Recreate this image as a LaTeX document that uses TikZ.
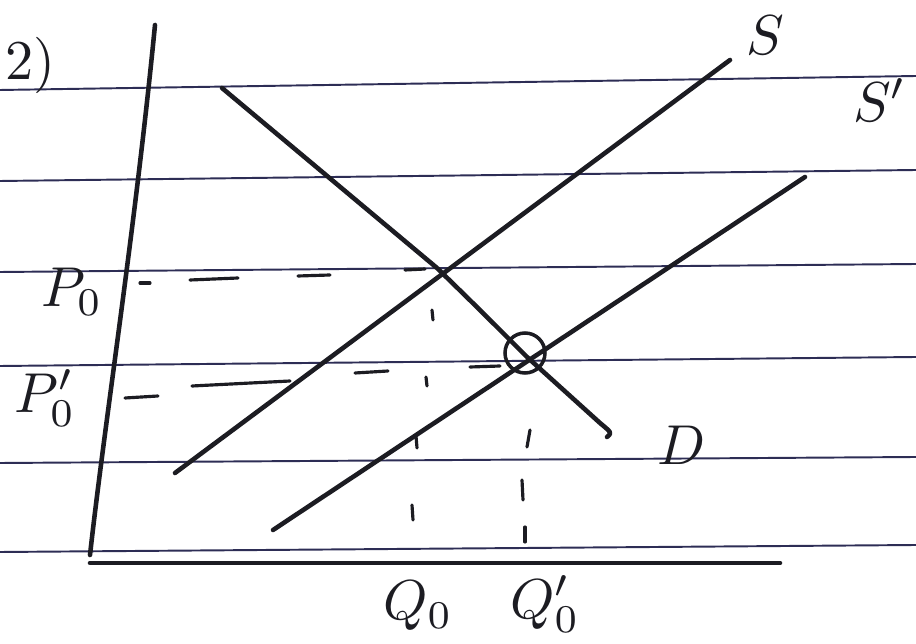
\documentclass[tikz,border=0pt]{standalone}
\usepackage{amsmath}
\usetikzlibrary{calc}
\definecolor{ink}{RGB}{28,28,34}
\definecolor{ruleline}{RGB}{45,45,85}

\begin{document}
\begin{tikzpicture}[x=0.02cm, y=-0.02cm,
    pen/.style={ink, line width=2.6pt, line cap=round, line join=round},
    dashpen/.style={ink, line width=1.8pt, line cap=round},
    ruled/.style={ruleline, line width=1.1pt},
    lbl/.style={ink, scale=3.2}]
    \useasboundingbox (0, 0) rectangle (916, 644);
    \fill [white] (0, 0) rectangle (916, 644);

    % lines of the paper
    \draw [ruled] (0, 90) -- (916, 76);
    \draw [ruled] (0, 181) -- (916, 170);
    \draw [ruled] (0, 272) -- (916, 264);
    \draw [ruled] (0, 366) -- (916, 357);
    \draw [ruled] (0, 463) -- (916, 457);
    \draw [ruled] (0, 552) -- (916, 545);

    % axes
    \draw [pen] (155, 25) .. controls (135, 230) and (105, 420) .. (90, 555);
    \draw [pen] (90, 563) -- (780, 563);

    % demand and the two supply lines
    \draw [pen] (222, 88) -- (437, 268) .. controls (480, 310) .. (527, 357)
      -- (600, 423) .. controls (612, 433) .. (607, 437);
    \draw [pen] (175, 473) -- (730, 60);
    \draw [pen] (273, 530) -- (805, 177);
    \draw [ink, line width=2pt] (525, 353) circle (20);

    % dashed guides
    \foreach \xa/\ya/\xb/\yb in {140/283/150/283, 190/280/238/278, 298/276/330/275, 405/270/425/269}
      \draw [dashpen] (\xa, \ya) -- (\xb, \yb);
    \foreach \xa/\ya/\xb/\yb in {125/398/158/396, 192/386/290/381, 355/373/388/371, 470/367/500/366}
      \draw [dashpen] (\xa, \ya) -- (\xb, \yb);
    \foreach \xa/\ya/\xb/\yb in {432/310/433/320, 426/377/427/386, 416/436/417/448, 412/505/413/520}
      \draw [dashpen] (\xa, \ya) -- (\xb, \yb);
    \foreach \xa/\ya/\xb/\yb in {530/430/527/447, 522/480/523/500, 525/527/525/542}
      \draw [dashpen] (\xa, \ya) -- (\xb, \yb);

    % labels
    \node [lbl] (num) at (30, 65) {2)};
    \node [lbl] (lblP) at (72, 292) {$P_0$};
    \node [lbl] (lblPp) at (45, 398) {$P_0'$};
    \node [lbl] (lblQ) at (418, 606) {$Q_0$};
    \node [lbl] (lblQp) at (545, 604) {$Q_0'$};
    \node [lbl] (lblS) at (765, 35) {$S$};
    \node [lbl] (lblSp) at (880, 100) {$S'$};
    \node [lbl] (lblD) at (682, 445) {$D$};
\end{tikzpicture}
\end{document}
